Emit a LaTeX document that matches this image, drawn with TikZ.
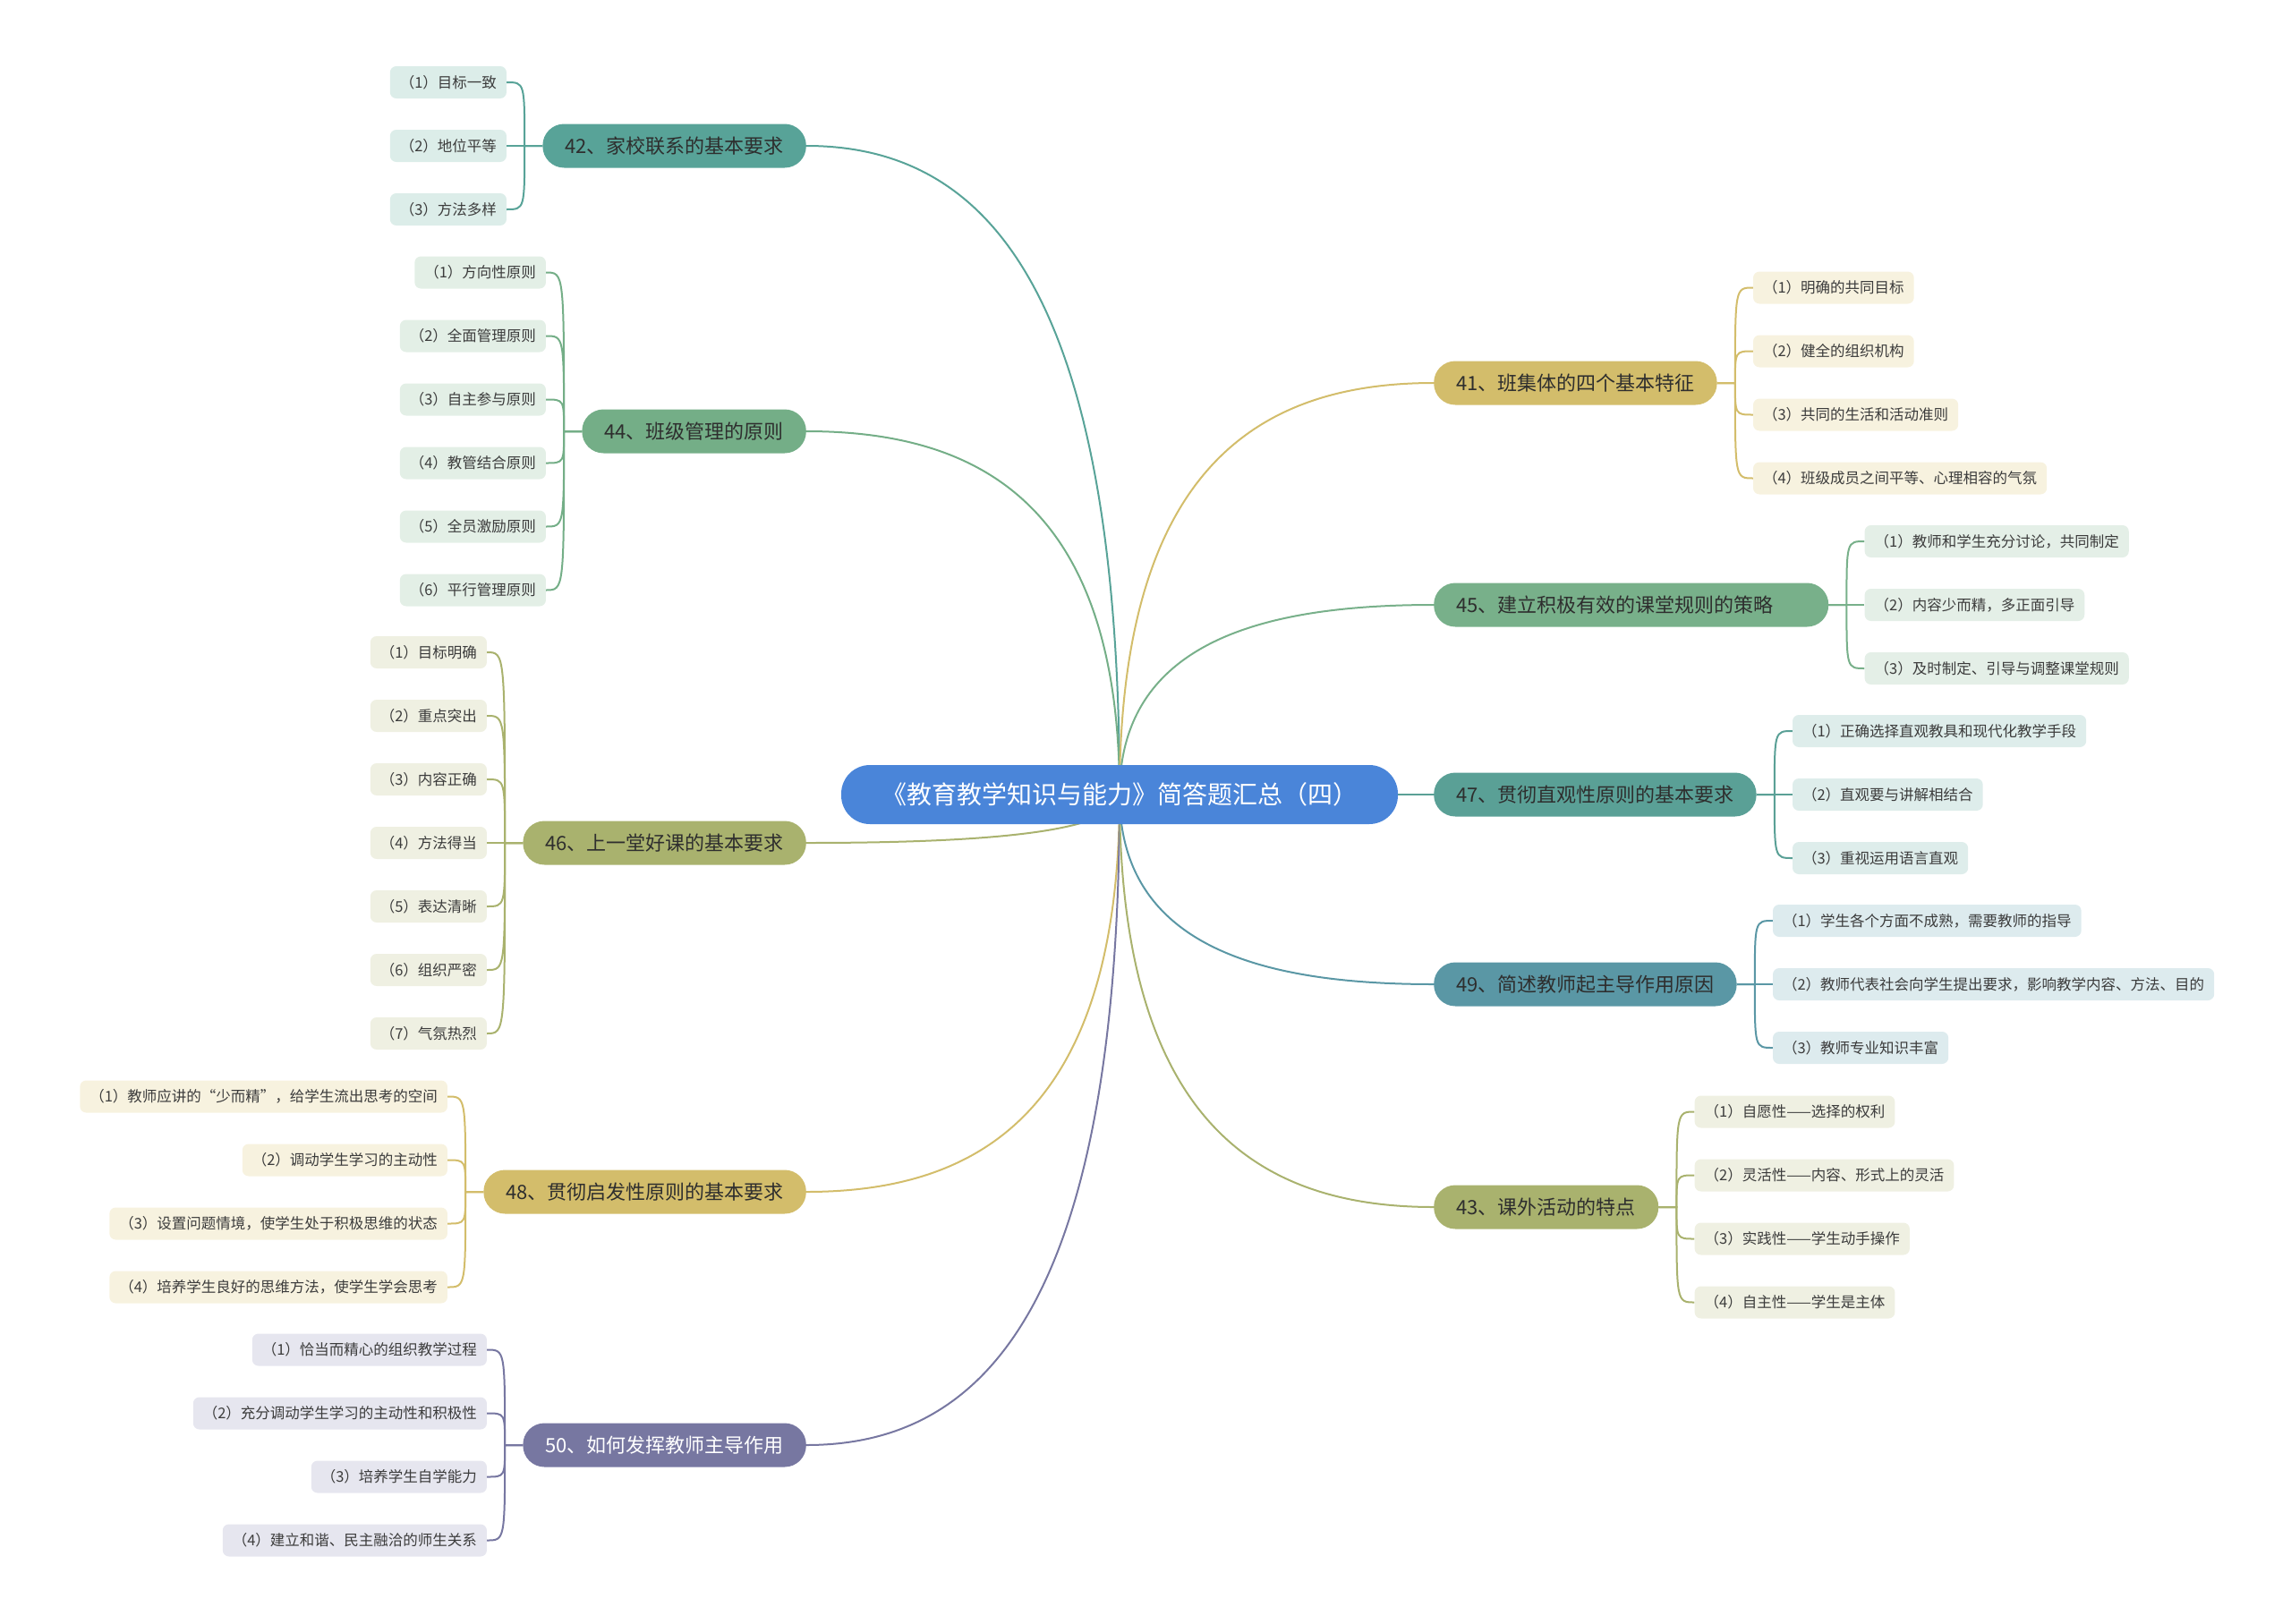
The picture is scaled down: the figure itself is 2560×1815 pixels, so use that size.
\documentclass[tikz,border=0pt]{standalone}
\usepackage{fontspec}
\setmainfont{Noto Sans CJK SC}
\usetikzlibrary{positioning, calc, backgrounds}
\definecolor{kroot}{HTML}{4A85D9}
\definecolor{ktxt}{HTML}{2E2E2E}
\definecolor{ksub}{HTML}{3C3C3C}
\definecolor{k41}{HTML}{D3BD6B}
\definecolor{k42}{HTML}{58A398}
\definecolor{k43}{HTML}{A9B26E}
\definecolor{k44}{HTML}{74AE87}
\definecolor{k45}{HTML}{78B08A}
\definecolor{k46}{HTML}{A9B26E}
\definecolor{k47}{HTML}{5AA096}
\definecolor{k48}{HTML}{D3BD6B}
\definecolor{k49}{HTML}{5A97A5}
\definecolor{k50}{HTML}{7777A1}
\definecolor{f41}{HTML}{F7F2DF}
\definecolor{f42}{HTML}{DCEDE9}
\definecolor{f43}{HTML}{EFF0E2}
\definecolor{f44}{HTML}{E3EFE6}
\definecolor{f45}{HTML}{E4EFE7}
\definecolor{f46}{HTML}{EFF0E2}
\definecolor{f47}{HTML}{DEEDEB}
\definecolor{f48}{HTML}{F7F2DF}
\definecolor{f49}{HTML}{DDEBEE}
\definecolor{f50}{HTML}{E6E6EF}

\begin{document}
\begin{tikzpicture}[x=1pt, y=-1pt,
    root/.style={fill=kroot, rounded corners=32pt, text=white, inner xsep=45pt,
                 inner ysep=0pt, minimum height=66pt, font=\fontsize{28}{32}\selectfont},
    main/.style={rounded corners=24pt, text=ktxt, inner xsep=25pt, inner ysep=0pt,
                 minimum height=49pt, font=\fontsize{22}{26}\selectfont},
    sub/.style={rounded corners=7pt, text=ksub, inner xsep=11pt, inner ysep=0pt,
                minimum height=36pt, font=\fontsize{16.5}{20}\selectfont},
    link/.style={line width=2pt}]
  \useasboundingbox (0,0) rectangle (2560,1815);

  \node[root] (c) at (1251,888) {《教育教学知识与能力》简答题汇总（四）};

  \node[main, fill=k41, anchor=west] (m41) at (1602,428) {41、班集体的四个基本特征};
  \node[main, fill=k45, anchor=west, text width=391pt, align=left] (m45) at (1602,676) {45、建立积极有效的课堂规则的策略};
  \node[main, fill=k47, anchor=west] (m47) at (1602,888) {47、贯彻直观性原则的基本要求};
  \node[main, fill=k49, anchor=west] (m49) at (1602,1100) {49、简述教师起主导作用原因};
  \node[main, fill=k43, anchor=west, minimum width=251pt] (m43) at (1602,1349) {43、课外活动的特点};

  \node[main, fill=k42, anchor=east] (m42) at (901,163) {42、家校联系的基本要求};
  \node[main, fill=k44, anchor=east] (m44) at (901,482) {44、班级管理的原则};
  \node[main, fill=k46, anchor=east] (m46) at (901,942) {46、上一堂好课的基本要求};
  \node[main, fill=k48, anchor=east] (m48) at (901,1332) {48、贯彻启发性原则的基本要求};
  \node[main, fill=k50, anchor=east, text=white] (m50) at (901,1615) {50、如何发挥教师主导作用};

  \foreach \m in {41,45,47,49,43}
    \coordinate (t\m) at ($(m\m.east)+(20,0)$);
  \foreach \m in {42,44,46,48,50}
    \coordinate (t\m) at ($(m\m.west)+(-20,0)$);

  \foreach \t [count=\i] in {{（1）明确的共同目标},{（2）健全的组织机构},{（3）共同的生活和活动准则},{（4）班级成员之间平等、心理相容的气氛}}
    \node[sub, fill=f41, anchor=west] (s41\i) at ($(m41.east)+(40,{71*(\i-2.5)})$) {\t};
  \foreach \t [count=\i] in {{（1）教师和学生充分讨论，共同制定},{（2）内容少而精，多正面引导},{（3）及时制定、引导与调整课堂规则}}
    \node[sub, fill=f45, anchor=west] (s45\i) at ($(m45.east)+(40,{71*(\i-2)})$) {\t};
  \foreach \t [count=\i] in {{（1）正确选择直观教具和现代化教学手段},{（2）直观要与讲解相结合},{（3）重视运用语言直观}}
    \node[sub, fill=f47, anchor=west] (s47\i) at ($(m47.east)+(40,{71*(\i-2)})$) {\t};
  \foreach \t [count=\i] in {{（1）学生各个方面不成熟，需要教师的指导},{（2）教师代表社会向学生提出要求，影响教学内容、方法、目的},{（3）教师专业知识丰富}}
    \node[sub, fill=f49, anchor=west] (s49\i) at ($(m49.east)+(40,{71*(\i-2)})$) {\t};
  \foreach \t [count=\i] in {{（1）自愿性——选择的权利},{（2）灵活性——内容、形式上的灵活},{（3）实践性——学生动手操作},{（4）自主性——学生是主体}}
    \node[sub, fill=f43, anchor=west] (s43\i) at ($(m43.east)+(40,{71*(\i-2.5)})$) {\t};

  \foreach \t [count=\i] in {{（1）目标一致},{（2）地位平等},{（3）方法多样}}
    \node[sub, fill=f42, anchor=east] (s42\i) at ($(m42.west)+(-40,{71*(\i-2)})$) {\t};
  \foreach \t [count=\i] in {{（1）方向性原则},{（2）全面管理原则},{（3）自主参与原则},{（4）教管结合原则},{（5）全员激励原则},{（6）平行管理原则}}
    \node[sub, fill=f44, anchor=east] (s44\i) at ($(m44.west)+(-40,{71*(\i-3.5)})$) {\t};
  \foreach \t [count=\i] in {{（1）目标明确},{（2）重点突出},{（3）内容正确},{（4）方法得当},{（5）表达清晰},{（6）组织严密},{（7）气氛热烈}}
    \node[sub, fill=f46, anchor=east] (s46\i) at ($(m46.west)+(-40,{71*(\i-4)})$) {\t};
  \foreach \t [count=\i] in {{（1）教师应讲的“少而精”，给学生流出思考的空间},{（2）调动学生学习的主动性},{（3）设置问题情境，使学生处于积极思维的状态},{（4）培养学生良好的思维方法，使学生学会思考}}
    \node[sub, fill=f48, anchor=east] (s48\i) at ($(m48.west)+(-40,{71*(\i-2.5)})$) {\t};
  \foreach \t [count=\i] in {{（1）恰当而精心的组织教学过程},{（2）充分调动学生学习的主动性和积极性},{（3）培养学生自学能力},{（4）建立和谐、民主融洽的师生关系}}
    \node[sub, fill=f50, anchor=east] (s50\i) at ($(m50.west)+(-40,{71*(\i-2.5)})$) {\t};

  \begin{pgfonlayer}{background}
    \foreach \m/\a in {42/east,44/east,46/east,48/east,50/east,41/west,45/west,47/west,49/west,43/west}
      \draw[link, color=k\m] (c.center) .. controls ($(c.center)!0.8!(c.center |- m\m.\a)$)
        and ($(m\m.\a)!0.55!(c.center |- m\m.\a)$) .. (m\m.\a);
    \foreach \m/\n/\a/\b in {41/4/east/west,45/3/east/west,47/3/east/west,49/3/east/west,43/4/east/west,
                            42/3/west/east,44/6/west/east,46/7/west/east,48/4/west/east,50/4/west/east}
      \foreach \i in {1,...,\n}
        \draw[link, color=k\m] (m\m.\a) -- (t\m) .. controls (t\m |- s\m\i.\b)
          and (t\m |- s\m\i.\b) .. (s\m\i.\b);
  \end{pgfonlayer}
\end{tikzpicture}
\end{document}
